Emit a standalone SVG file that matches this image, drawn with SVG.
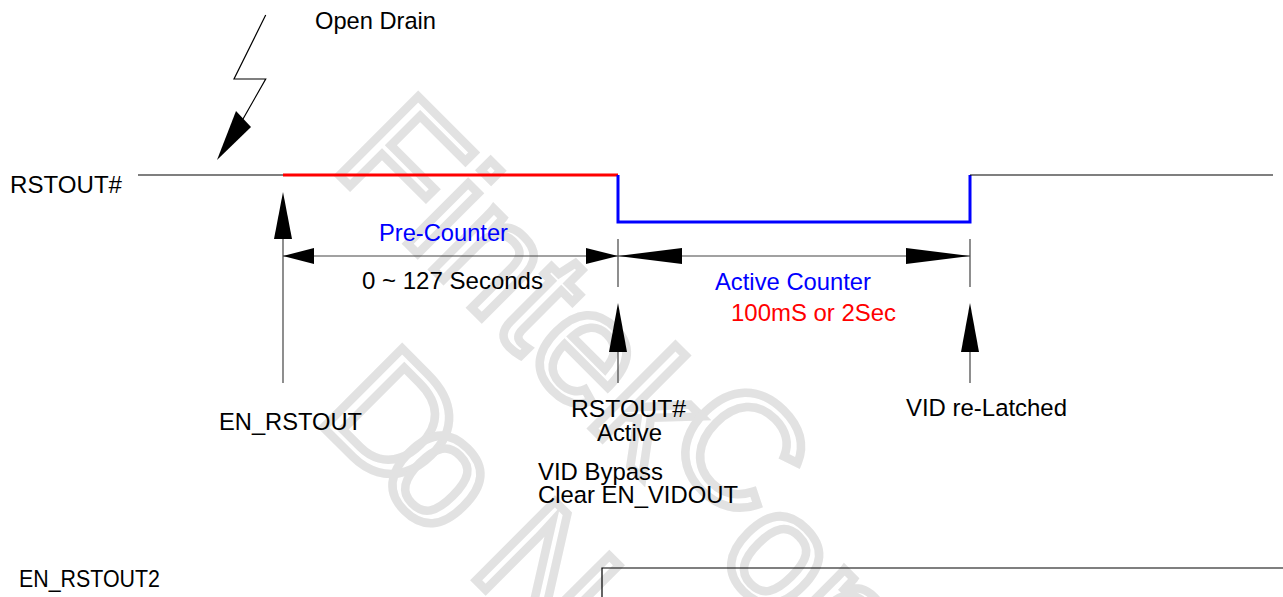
<svg xmlns="http://www.w3.org/2000/svg" width="1283" height="597" viewBox="0 0 1283 597">
<style>
.t{font-family:"Liberation Sans",Arial,sans-serif;font-size:23.7px;fill:#000}
.blue{fill:#0000ff}
.red{fill:#ff0000}
.wm{font-family:"Liberation Sans",Arial,sans-serif;font-size:162px;fill:none;stroke:#e2e2e2;stroke-width:8.5;stroke-linejoin:miter}
.thin{stroke:#000;stroke-width:1.2;fill:none}
.dim{stroke:#444;stroke-width:1.2;fill:none}
.ah{fill:#000;stroke:none}
</style>
<rect width="1283" height="597" fill="#fff"/>
<g id="watermark">
<text class="wm" transform="translate(330,166) rotate(45)">Fintek<tspan dx="-10" dy="-35">C</tspan><tspan dx="0" dy="42">onfidential</tspan></text>
<text class="wm" transform="translate(314,418) rotate(45)">D<tspan dx="-32">o</tspan><tspan dx="-4"> Not Copy</tspan></text>
</g>
<g id="connectors">
<polyline class="thin" points="265.7,15 234,79 265.7,79 243,119"/>
<polygon class="ah" points="217,160 236,111 251,127"/>
<line class="thin" x1="138" y1="175" x2="283" y2="175"/>
<line x1="283" y1="175" x2="618" y2="175" stroke="#ff0000" stroke-width="3"/>
<polyline points="618,175 618,222 970,222 970,175" stroke="#0000ff" stroke-width="3" fill="none"/>
<line class="thin" x1="970" y1="175" x2="1273" y2="175"/>
<line class="dim" x1="283" y1="238" x2="283" y2="383"/>
<polygon class="ah" points="283,192 274,239 292,239"/>
<line class="dim" x1="283" y1="256" x2="618" y2="256"/>
<polygon class="ah" points="283,256 314,248 314,264"/>
<polygon class="ah" points="618,256 586,248 586,264"/>
<line class="dim" x1="618" y1="239" x2="618" y2="287"/>
<line class="dim" x1="970" y1="239" x2="970" y2="287"/>
<line class="dim" x1="618" y1="256" x2="970" y2="256"/>
<polygon class="ah" points="618,256 682,248 682,264"/>
<polygon class="ah" points="970,256 906,248 906,264"/>
<line class="dim" x1="618" y1="350" x2="618" y2="383"/>
<polygon class="ah" points="618,303 609,352 627,352"/>
<line class="dim" x1="970" y1="350" x2="970" y2="383"/>
<polygon class="ah" points="970,303 961,352 979,352"/>
<polyline class="thin" points="602,597 602,568 1283,568"/>
</g>
<g id="label-open-drain"><text class="t" x="315" y="29" textLength="121" lengthAdjust="spacingAndGlyphs">Open Drain</text></g>
<g id="label-rstout"><text class="t" x="10" y="193" textLength="112" lengthAdjust="spacingAndGlyphs">RSTOUT#</text></g>
<g id="label-precounter"><text class="t blue" x="379" y="241" textLength="129" lengthAdjust="spacingAndGlyphs">Pre-Counter</text></g>
<g id="label-seconds"><text class="t" x="362" y="289" textLength="181" lengthAdjust="spacingAndGlyphs">0 ~ 127 Seconds</text></g>
<g id="label-active-counter"><text class="t blue" x="715" y="290" textLength="156" lengthAdjust="spacingAndGlyphs">Active Counter</text></g>
<g id="label-100ms"><text class="t red" x="731" y="321" textLength="165" lengthAdjust="spacingAndGlyphs">100mS or 2Sec</text></g>
<g id="label-en-rstout"><text class="t" x="219" y="430" textLength="143" lengthAdjust="spacingAndGlyphs">EN_RSTOUT</text></g>
<g id="label-rstout-active"><text class="t" x="571" y="417" textLength="115" lengthAdjust="spacingAndGlyphs">RSTOUT#</text><text class="t" x="597" y="441" textLength="65" lengthAdjust="spacingAndGlyphs">Active</text></g>
<g id="label-vid-bypass"><text class="t" x="538" y="480" textLength="125" lengthAdjust="spacingAndGlyphs">VID Bypass</text><text class="t" x="538" y="503" textLength="200" lengthAdjust="spacingAndGlyphs">Clear EN_VIDOUT</text></g>
<g id="label-vid-relatched"><text class="t" x="906" y="416" textLength="161" lengthAdjust="spacingAndGlyphs">VID re-Latched</text></g>
<g id="label-en-rstout2"><text class="t" x="19" y="587" textLength="141" lengthAdjust="spacingAndGlyphs">EN_RSTOUT2</text></g>
</svg>
